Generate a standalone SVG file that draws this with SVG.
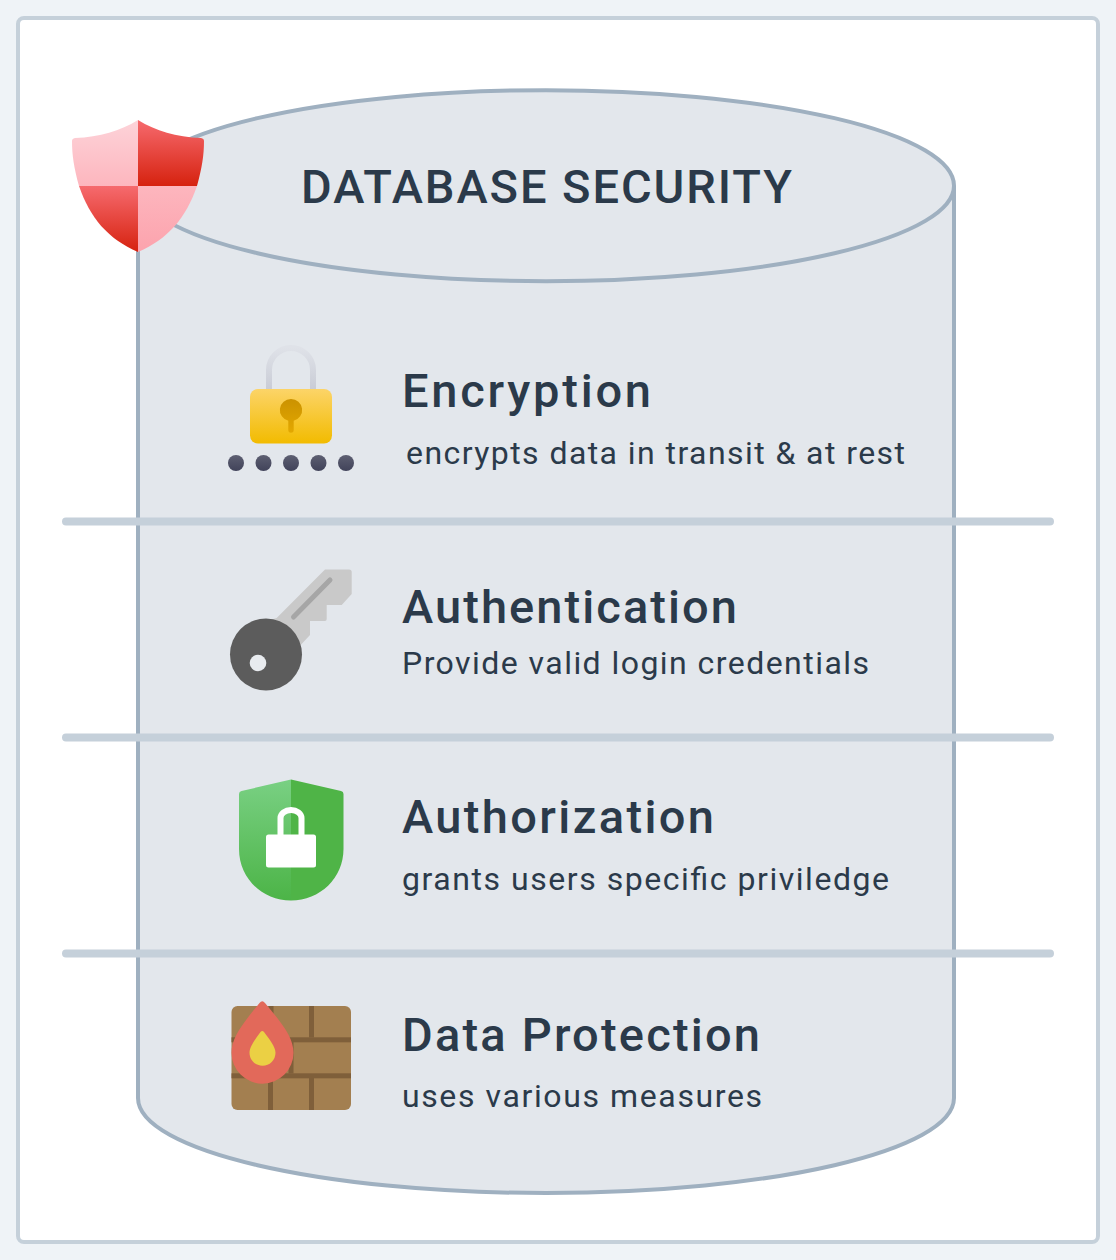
<svg xmlns="http://www.w3.org/2000/svg" width="1116" height="1260" viewBox="0 0 1116 1260">
<style>
.t{font-family:"Roboto","Liberation Sans",sans-serif;fill:#2b3a4a;font-weight:500}
.h{font-size:47px}
.s{font-size:32px;font-weight:400}
.cyl{fill:#e3e7ec;stroke:#9fb0c0;stroke-width:4}
.sep{stroke:#c5d0da;stroke-width:8;stroke-linecap:round;fill:none}
.dot{fill:url(#gd)}
.m{fill:#7f5f3a}
</style>
<defs>
<linearGradient id="gr" x1="0" y1="0" x2="0" y2="1"><stop offset="0" stop-color="#f66a6e"/><stop offset="1" stop-color="#d6220f"/></linearGradient>
<linearGradient id="gp" x1="0" y1="0" x2="0" y2="1"><stop offset="0" stop-color="#fdd3d9"/><stop offset="1" stop-color="#fdb6be"/></linearGradient>
<linearGradient id="gp2" x1="0" y1="0" x2="0" y2="1"><stop offset="0" stop-color="#fdb6be"/><stop offset="1" stop-color="#fca3ad"/></linearGradient>
<linearGradient id="gy" x1="0" y1="0" x2="0" y2="1"><stop offset="0" stop-color="#fcd468"/><stop offset="1" stop-color="#f2bb00"/></linearGradient>
<linearGradient id="gs" x1="0" y1="0" x2="0" y2="1"><stop offset="0" stop-color="#dfe2e8"/><stop offset="1" stop-color="#c9ccd6"/></linearGradient>
<linearGradient id="gd" x1="0" y1="0" x2="0" y2="1"><stop offset="0" stop-color="#5d5f72"/><stop offset="1" stop-color="#41435a"/></linearGradient>
<linearGradient id="gg" x1="0" y1="0" x2="0" y2="1"><stop offset="0" stop-color="#79d083"/><stop offset="1" stop-color="#4cb447"/></linearGradient>
<linearGradient id="gk" x1="0" y1="0" x2="0" y2="1"><stop offset="0" stop-color="#cb9200"/><stop offset="1" stop-color="#e3a800"/></linearGradient>
</defs>
<rect width="1116" height="1260" fill="#eff3f7"/>
<rect x="18" y="18" width="1080" height="1224" rx="6" fill="#fff" stroke="#c5d0da" stroke-width="4"/>
<g id="cylinder">
<path class="cyl" d="M138 186V1098C138 1150.500 320.700 1193 546 1193S954 1150.500 954 1098V186"/>
<ellipse class="cyl" cx="546" cy="185.700" rx="408" ry="95.500"/>
<text class="t h" x="301" y="203" textLength="491" lengthAdjust="spacing">DATABASE SECURITY</text>
</g>
<g id="connectors">
<path class="sep" d="M66 521.500H1050M66 737.500H1050M66 953.500H1050"/>
</g>
<g id="shield">
<path fill="url(#gp)" d="M138 120V186H79C74 168 72 155 72 141Q72 138.500 75 138C100 137 120 131 138 120Z"/>
<path fill="url(#gr)" d="M138 120V186H197C202 168 204 155 204 141Q204 138.500 201 138C176 137 156 131 138 120Z"/>
<path fill="url(#gr)" d="M79 186H138V252C108 239 90 218 79 186Z"/>
<path fill="url(#gp2)" d="M197 186H138V252C168 239 186 218 197 186Z"/>
</g>
<g id="encryption">
<path fill="none" stroke="url(#gs)" stroke-width="6" d="M269 390V370A22 22 0 0 1 313 370V390"/>
<rect x="250" y="389" width="82" height="54.500" rx="8" fill="url(#gy)"/>
<path fill="url(#gk)" d="M291 399A11 11 0 0 1 293.700 420.700V430A2.700 2.700 0 0 1 288.300 430V420.700A11 11 0 0 1 291 399Z"/>
<circle class="dot" cx="236" cy="463" r="8"/><circle class="dot" cx="263.500" cy="463" r="8"/><circle class="dot" cx="291" cy="463" r="8"/><circle class="dot" cx="318.500" cy="463" r="8"/><circle class="dot" cx="346" cy="463" r="8"/>
<text class="t h" x="402" y="407" textLength="249" lengthAdjust="spacing">Encryption</text>
<text class="t s" x="406" y="464" textLength="499" lengthAdjust="spacing">encrypts data in transit &amp; at rest</text>
</g>
<g id="authentication">
<path fill="#c9c9c9" d="M325 569.500H349Q351.700 569.500 351.700 572V594L341.700 605H326.700V619Q326.700 621 325 621H310V635L296 650L270 620L276.700 618Z"/>
<path fill="none" stroke="#a6a6a6" stroke-width="5" stroke-linecap="round" d="M293.500 617L330 580"/>
<circle cx="266" cy="654.500" r="36" fill="#5c5c5c"/>
<circle cx="258" cy="663" r="8.300" fill="#e8ebef"/>
<text class="t h" x="402" y="623" textLength="335" lengthAdjust="spacing">Authentication</text>
<text class="t s" x="402" y="674" textLength="467" lengthAdjust="spacing">Provide valid login credentials</text>
</g>
<g id="authorization">
<path fill="url(#gg)" d="M291 779.500V900.500C262 900.500 239 878 239 849V794Q239 791.500 241.500 791Z"/>
<path fill="#4fb447" d="M291 779.500V900.500C320 900.500 343.500 878 343.500 849V794Q343.500 791.500 341 791Z"/>
<path fill="none" stroke="#fff" stroke-width="6" d="M280.500 836V818A10.500 8 0 0 1 301.500 818V836"/>
<rect x="266" y="834.500" width="50" height="33" rx="2.500" fill="#fff"/>
<text class="t h" x="402" y="833" textLength="312" lengthAdjust="spacing">Authorization</text>
<text class="t s" x="402" y="890" textLength="487" lengthAdjust="spacing">grants users specific priviledge</text>
</g>
<g id="data-protection">
<rect x="231.500" y="1006" width="119.500" height="104" rx="6" fill="#a37f50"/>
<rect class="m" x="231.500" y="1037.300" width="119.500" height="5"/>
<rect class="m" x="231.500" y="1073.300" width="119.500" height="5"/>
<rect class="m" x="309" y="1006" width="5" height="31.500"/>
<rect class="m" x="268.500" y="1006" width="5" height="31.500"/>
<rect class="m" x="288.500" y="1042" width="5" height="31.500"/>
<rect class="m" x="268" y="1078" width="5" height="32"/>
<rect class="m" x="309" y="1078" width="5" height="32"/>
<path fill="#e2695a" d="M259.500 1003Q262.300 999.500 265 1003C281 1022 293.500 1037 293.500 1052.700A31 31 0 0 1 231.500 1052.700C231.500 1037 244 1022 259.500 1003Z"/>
<path fill="#ebd044" d="M260.500 1032Q262.300 1030 264 1032C270 1040 275.500 1047 275.500 1052.700A13 13 0 0 1 249.500 1052.700C249.500 1047 254.500 1040 260.500 1032Z"/>
<text class="t h" x="402" y="1051" textLength="358" lengthAdjust="spacing">Data Protection</text>
<text class="t s" x="402" y="1107" textLength="360" lengthAdjust="spacing">uses various measures</text>
</g>
</svg>
